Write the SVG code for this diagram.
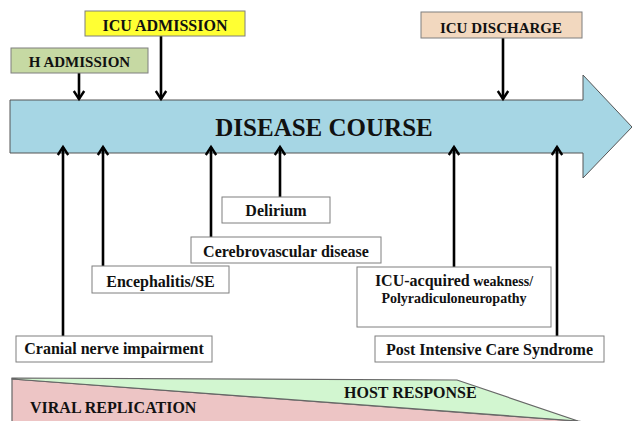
<svg xmlns="http://www.w3.org/2000/svg" width="632" height="421" viewBox="0 0 632 421">
<defs>
<style>
text{font-family:"Liberation Serif","Times New Roman",serif;font-weight:bold;fill:#111;}
.box{stroke:#7f7f7f;stroke-width:1;}
.w{fill:#fff;}
.c{text-anchor:middle;}
.con{stroke:#000;stroke-width:2.6;fill:none;marker-end:url(#ah);}
</style>
<marker id="ah" viewBox="0 0 10 12" refX="9" refY="6" markerWidth="10" markerHeight="12" markerUnits="userSpaceOnUse" orient="auto" overflow="visible">
<path d="M1,0.8 L9,6 L1,11.2" fill="none" stroke="#000" stroke-width="2.4"/>
</marker>
</defs>
<rect width="632" height="421" fill="#fff"/>

<g id="disease-course">
<polygon points="10,100 583,100 583,75 632,127 583,178 583,153 10,153" fill="#A6D6E4" stroke="#555" stroke-width="1"/>
<text x="324" y="136" class="c" font-size="25">DISEASE COURSE</text>
</g>

<g id="response-band">
<polygon points="12,379 580,421.3 580,425 12,425" fill="#EDC5C5" stroke="#666" stroke-width="1.2"/>
<polygon points="12,378 457,380 578,421 12,379" fill="#D2F6D0" stroke="#666" stroke-width="1.2"/>
<text x="30" y="413" font-size="16">VIRAL REPLICATION</text>
<text x="344" y="398" font-size="16">HOST RESPONSE</text>
</g>

<g id="connectors">
<line class="con" x1="79" y1="73" x2="79" y2="99"/>
<line class="con" x1="161" y1="36" x2="161" y2="99"/>
<line class="con" x1="503" y1="38" x2="503" y2="99"/>
<line class="con" x1="63" y1="336" x2="63" y2="147"/>
<line class="con" x1="103" y1="266" x2="103" y2="147"/>
<line class="con" x1="211" y1="237" x2="211" y2="147"/>
<line class="con" x1="280" y1="197" x2="280" y2="147"/>
<line class="con" x1="454" y1="267" x2="454" y2="147"/>
<line class="con" x1="557" y1="336" x2="557" y2="147"/>
</g>

<g id="h-admission">
<rect class="box" x="11" y="48" width="137" height="25" fill="#C6D9A3"/>
<text x="79.5" y="66.5" class="c" font-size="15">H ADMISSION</text>
</g>

<g id="icu-admission">
<rect class="box" x="85" y="11" width="160" height="25" fill="#FFFF33"/>
<text x="165" y="30.5" class="c" font-size="16">ICU ADMISSION</text>
</g>

<g id="icu-discharge">
<rect class="box" x="421" y="12" width="161" height="26" fill="#F2D8BF"/>
<text x="501" y="32.5" class="c" font-size="15">ICU DISCHARGE</text>
</g>

<g id="delirium">
<rect class="box w" x="222" y="197" width="108" height="26"/>
<text x="276" y="216" class="c" font-size="16">Delirium</text>
</g>

<g id="cerebrovascular">
<rect class="box w" x="191" y="237" width="190" height="26"/>
<text x="286" y="256.5" class="c" font-size="16">Cerebrovascular disease</text>
</g>

<g id="encephalitis">
<rect class="box w" x="92" y="266" width="137" height="27"/>
<text x="160.5" y="286.5" class="c" font-size="16">Encephalitis/SE</text>
</g>

<g id="cranial">
<rect class="box w" x="16" y="336" width="196" height="26"/>
<text x="114" y="354" class="c" font-size="16">Cranial nerve impairment</text>
</g>

<g id="icu-weakness">
<rect class="box w" x="357" y="267" width="194" height="60"/>
<text x="454" y="286" class="c"><tspan font-size="16">ICU-acquired</tspan><tspan font-size="14"> weakness/</tspan></text>
<text x="454" y="303" class="c" font-size="14">Polyradiculoneuropathy</text>
</g>

<g id="pics">
<rect class="box w" x="375" y="336" width="229" height="26"/>
<text x="489.5" y="354.5" class="c" font-size="16">Post Intensive Care Syndrome</text>
</g>
</svg>
